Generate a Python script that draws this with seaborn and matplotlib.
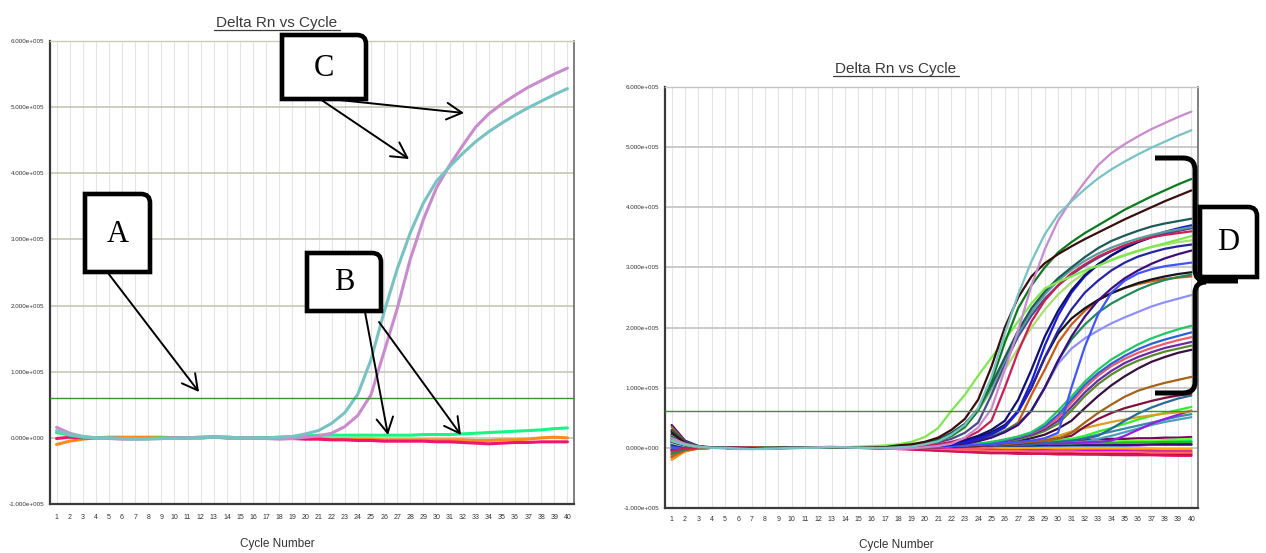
import numpy as np
import pandas as pd
import matplotlib
matplotlib.use("Agg")
import matplotlib.pyplot as plt
import seaborn as sns
from matplotlib.path import Path
from matplotlib.patches import PathPatch

sns.set_theme(style="white")
plt.rcParams["font.family"] = ["Liberation Sans", "DejaVu Sans"]

# ---------------- data (values in thousands of Delta Rn) ----------------
cycles = list(range(1, 41))
ytick_vals = [-100000, 0, 100000, 200000, 300000, 400000, 500000, 600000]
ytick_text = ["-1.000e+005", "0.000e+000", "1.000e+005", "2.000e+005",
              "3.000e+005", "4.000e+005", "5.000e+005", "6.000e+005"]
threshold = 61000

# left panel
teal_L = [11,5,2,0,0,-1,-2,-2,-1,-1, 0,0,1,1,0,0,0,1,2,6,
          11,22,38,66,118,190,255,310,355,388, 410,430,448,463,476,488,499,509,519,528]
violet_L = [16,7,2,0,-1,-2,-2,-1,-1,0, 0,1,2,1,0,0,-1,-2,-1,1,
            3,7,17,34,65,130,195,270,330,378, 412,442,470,490,505,518,530,540,550,559]
green_L = [8,4,1,0,0,-1,-1,-1,0,0, 0,0,1,1,0,0,0,1,2,3,
           4,4,4,4,4,4,4,4,5,5, 5,6,7,8,9,10,11,12,14,15]
orange_L = [-10,-5,-2,0,1,1,1,1,1,0, 0,1,1,0,0,0,0,0,0,0,
            -1,-2,-2,-2,-2,-3,-3,-3,-3,-3, -3,-3,-4,-4,-3,-3,-2,0,1,0]
red_L = [-1,1,0,0,0,-1,-1,-1,-1,0, 0,0,1,0,0,0,0,-1,-1,-2,
         -2,-3,-3,-4,-4,-5,-5,-5,-5,-6, -6,-7,-8,-9,-8,-7,-7,-6,-6,-6]

# right panel, amplifying wells
lime = [12,5,1,0,0,-1,-1,0,0,0, 0,1,1,1,2,3,4,6,10,18, 33,62,88,120,150,180,210,240,265,276, 285,295,303,312,320,327,334,340,346,352]
dkbrown = [25,8,2,0,0,-1,-1,-1,0,0, 0,0,1,1,0,1,1,4,6,10, 17,30,48,80,135,200,250,285,307,322, 335,347,358,369,380,390,400,410,419,428]
dkgreen = [18,6,2,0,0,-1,-1,0,0,0, 0,1,1,1,0,1,1,2,4,7, 12,20,35,62,110,175,232,270,300,325, 342,357,370,383,396,407,418,428,438,447]
dkteal = [30,10,3,1,0,0,-1,-1,-1,0, 0,0,1,1,0,0,1,2,4,8, 14,25,40,65,105,150,195,232,260,282, 300,317,332,344,353,361,368,373,377,381]
cadet = [20,7,2,0,0,-1,-1,0,0,0, 0,1,1,0,0,0,1,2,3,6, 11,20,36,62,100,145,190,226,255,278, 296,311,323,333,341,348,354,359,363,367]
crimson = [-5,-1,0,0,1,1,0,0,0,0, 0,1,1,0,0,0,0,1,2,4, 6,10,16,27,45,100,160,210,245,270, 290,305,318,328,337,344,350,354,357,360]
slate = [15,5,1,0,0,-1,-1,-1,0,0, 0,0,1,1,0,0,1,1,3,5, 9,15,25,42,88,140,185,220,248,270, 288,303,316,327,336,344,351,356,361,365]
navy = [10,4,1,0,0,-1,-1,0,0,0, 0,1,1,0,0,0,1,1,2,3, 5,8,13,20,30,45,80,130,185,228, 262,287,305,320,332,342,350,356,361,366]
blue = [22,7,2,0,0,0,-1,-1,0,0, 0,0,1,1,0,0,0,1,2,3, 4,6,10,16,24,36,62,110,170,220, 258,285,305,320,333,343,352,359,365,370]
palegreen = [8,3,1,0,0,0,-1,0,0,0, 0,1,1,0,0,0,1,2,3,6, 11,19,33,62,95,130,165,200,230,255, 275,291,303,313,321,328,334,338,342,345]
blue2 = [5,2,0,0,0,-1,-1,0,0,0, 0,0,1,1,0,0,0,1,1,3, 4,6,9,14,22,34,60,100,150,195, 230,258,278,295,308,318,325,331,335,338]
dkpurple = [12,4,1,0,0,-1,-1,-1,0,0, 0,0,1,1,0,0,0,1,2,2, 3,5,7,11,17,26,38,62,100,145, 185,218,245,265,282,295,306,315,322,328]
brightblue = [0,0,0,0,0,0,-1,0,0,0, 0,0,1,0,0,0,0,1,1,2, 2,3,4,5,6,8,10,12,16,25, 100,168,222,258,278,290,297,302,305,308]
black = [28,9,2,0,0,-1,-1,0,0,0, 0,0,1,1,0,0,0,1,2,3, 5,8,12,18,26,38,60,100,150,190, 215,232,246,257,266,274,280,285,289,292]
tealgreen = [-10,-3,0,0,1,1,0,0,0,0, 0,1,1,0,0,0,0,1,1,2, 3,5,8,12,18,28,40,62,100,145, 180,205,225,240,252,263,272,279,284,288]
orangebrown = [-15,-4,-1,0,1,1,1,1,0,0, 0,1,1,0,0,0,0,1,1,2, 3,5,8,12,18,28,42,88,130,175, 205,228,245,258,266,272,277,281,283,285]
lightblue = [6,2,0,0,0,-1,-1,0,0,0, 0,0,1,1,0,0,0,1,1,2, 3,5,8,12,18,27,40,62,100,140, 165,182,195,207,217,226,235,242,248,254]
green = [14,5,1,0,0,0,-1,-1,0,0, 0,0,1,1,0,0,0,1,1,2, 2,3,5,7,10,14,19,26,40,62, 85,110,130,147,160,172,182,190,197,203]
blue3 = [3,1,0,0,0,-1,-1,0,0,0, 0,0,1,0,0,0,0,1,1,2, 2,3,4,6,9,13,18,25,36,55, 80,105,124,140,153,164,173,180,186,192]
salmon = [-12,-3,-1,0,1,1,1,0,0,0, 0,1,1,0,0,0,0,0,1,1, 2,3,4,6,9,13,18,24,34,50, 75,100,120,136,148,158,166,173,179,184]
purple = [16,5,1,0,0,-1,-1,-1,0,0, 0,0,1,1,0,0,0,1,1,2, 2,3,4,6,8,11,16,22,31,45, 68,92,112,128,141,151,159,166,171,176]
olive = [-6,-2,0,0,1,1,0,0,0,0, 0,1,1,0,0,0,0,1,1,1, 2,3,4,5,7,10,14,20,28,40, 62,86,106,122,135,145,153,160,165,170]
dkpurple2 = [20,6,1,0,0,-1,-1,-1,0,0, 0,0,1,1,0,0,0,0,1,1, 2,2,3,4,6,8,11,16,22,32, 45,66,86,104,119,132,143,151,158,163]
brown = [35,10,2,0,0,-1,-1,0,0,0, 0,0,1,1,0,0,0,1,1,1, 2,2,3,4,5,6,8,10,12,15, 25,42,58,72,85,95,102,108,113,118]
maroon = [-3,0,0,0,0,0,-1,0,0,0, 0,0,1,0,0,0,0,0,1,1, 1,2,2,3,4,5,7,9,12,16, 20,35,48,58,66,72,78,83,87,90]
steelblue = [9,3,1,0,0,0,-1,0,0,0, 0,0,1,1,0,0,0,0,1,1, 1,2,2,3,3,4,5,6,8,10, 12,15,20,32,45,57,67,75,82,87]
gold = [-18,-5,-1,0,1,1,1,1,0,0, 0,1,1,0,0,0,0,0,1,1, 2,2,3,4,5,6,7,8,14,20, 27,33,38,43,47,51,54,57,59,61]
brightgreen = [4,1,0,0,0,0,-1,0,0,0, 0,0,1,0,0,0,0,1,1,2, 3,4,5,6,7,8,9,10,12,13, 15,20,27,33,40,47,53,58,63,68]
purple2 = [2,1,0,0,0,-1,-1,0,0,0, 0,0,1,0,0,0,0,0,1,1, 2,3,4,4,5,5,6,6,7,7, 8,9,10,12,20,30,40,48,55,62]
tealblue = [7,2,0,0,0,-1,-1,0,0,0, 0,0,1,1,0,0,0,1,1,2, 3,4,5,6,7,8,9,10,11,12, 12,17,22,27,32,37,42,47,52,56]
teal2 = [-4,-1,0,0,1,0,0,0,0,0, 0,1,1,0,0,0,0,0,1,1, 2,3,4,5,6,7,7,8,9,10, 10,10,15,20,26,32,38,43,47,51]

# right panel, non-amplifying wells
f_hotpink = [-8,-2,0,0,0,-1,-1,-1,0,0, 0,0,1,0,0,0,-1,-1,-2,-3, -4,-5,-6,-7,-8,-8,-9,-9,-10,-10, -10,-11,-11,-11,-12,-12,-12,-13,-13,-13]
f_red = [-5,-1,0,0,0,-1,-1,0,0,0, 0,0,1,0,0,0,-1,-1,-2,-2, -3,-4,-5,-5,-6,-6,-7,-7,-8,-8, -8,-9,-9,-9,-9,-10,-10,-10,-10,-10]
f_orange = [-20,-6,-1,0,1,1,1,1,1,0, 0,1,1,0,0,0,0,-1,-1,-1, -2,-2,-3,-3,-3,-3,-4,-4,-4,-4, -4,-4,-4,-5,-5,-5,-5,-5,-5,-5]
f_dkmagenta = [12,4,1,0,0,-1,-1,-1,-1,0, 0,0,1,0,0,0,0,1,1,2, 3,4,5,6,7,8,9,10,11,12, 13,13,14,15,15,16,16,17,17,18]
f_spring = [6,2,0,0,0,0,-1,0,0,0, 0,0,1,1,0,0,1,2,3,4, 5,6,6,7,7,8,8,8,9,9, 9,9,10,10,10,11,11,11,12,12]
f_cyan = [15,5,1,0,0,-1,-1,0,0,0, 0,1,1,0,0,0,0,1,2,3, 4,4,5,5,6,6,6,7,7,7, 7,8,8,8,8,9,9,9,9,10]
f_blue = [22,7,2,0,0,-1,-1,-1,0,0, 0,0,1,1,0,0,0,1,1,2, 2,3,3,3,4,4,4,4,5,5, 5,5,5,5,6,6,6,6,6,6]
f_purple = [-10,-3,-1,0,0,0,0,0,0,0, 0,0,1,0,0,0,0,0,1,1, 1,2,2,2,2,3,3,3,3,3, 4,4,4,4,4,4,5,5,5,5]
f_lime = [3,1,0,0,0,0,-1,0,0,0, 0,0,1,1,0,0,1,1,2,3, 4,5,5,6,6,7,7,8,8,9, 9,10,10,11,11,12,12,13,14,15]
f_teal = [-14,-4,-1,0,0,1,0,0,0,0, 0,0,1,0,0,0,0,0,1,1, 2,2,2,3,3,3,3,3,4,4, 4,4,4,4,4,5,5,5,5,5]
f_pink = [8,3,1,0,0,-1,-1,-1,0,0, 0,0,1,0,0,0,-1,-1,-1,-2, -2,-3,-3,-4,-4,-4,-5,-5,-5,-6, -6,-6,-6,-7,-7,-7,-7,-8,-8,-8]
f_crimson = [28,9,2,0,0,-1,-1,-1,0,0, 0,0,1,0,0,0,-1,-1,-2,-3, -4,-5,-6,-7,-7,-8,-8,-8,-9,-9, -9,-9,-9,-10,-10,-10,-10,-10,-11,-11]
f_brownorange = [-16,-5,-1,0,1,1,1,1,0,0, 0,1,1,0,0,0,0,0,-1,-1, -1,-1,-2,-2,-2,-2,-2,-3,-3,-3, -3,-3,-3,-3,-3,-3,-3,-3,-3,-3]
f_dkgreen = [10,3,1,0,0,0,-1,0,0,0, 0,0,1,0,0,0,0,1,1,2, 2,3,3,4,4,4,5,5,5,5, 5,6,6,6,6,6,7,7,7,7]
f_amber = [-12,-3,0,0,1,1,1,0,0,0, 0,0,1,0,0,0,0,0,0,0, 0,0,-1,-1,-1,-1,-1,-1,-1,-1, -1,-1,-1,-1,-1,-1,-1,-2,-2,-2]
f_magenta = [5,2,0,0,0,-1,-1,0,0,0, 0,0,1,0,0,0,0,-1,-1,-2, -2,-2,-3,-3,-3,-4,-4,-4,-4,-5, -5,-5,-5,-5,-5,-6,-6,-6,-6,-6]
f_aqua = [18,6,1,0,0,-1,-1,-1,0,0, 0,0,1,1,0,0,0,1,1,2, 3,3,4,4,5,5,5,6,6,6, 6,7,7,7,7,8,8,8,8,8]
f_lightred = [-2,0,0,0,0,0,-1,0,0,0, 0,0,1,0,0,0,-1,-1,-1,-2, -3,-3,-4,-4,-5,-5,-5,-6,-6,-6, -6,-7,-7,-7,-7,-7,-8,-8,-8,-8]
f_dkpurple = [38,12,3,0,0,-1,-1,-1,0,0, 0,0,1,1,0,0,0,1,1,2, 2,2,3,3,4,4,4,4,5,5, 5,5,5,5,5,5,6,6,6,6]
f_deeppink = [-3,-1,0,0,0,-1,-1,0,0,0, 0,0,1,0,0,-1,-1,-2,-3,-4, -5,-6,-7,-8,-9,-9,-10,-10,-10,-11, -11,-11,-11,-12,-12,-12,-12,-12,-13,-13]
f_medgreen = [2,1,0,0,0,0,-1,0,0,0, 0,0,1,1,0,0,0,1,1,2, 3,4,4,5,5,6,6,6,7,7, 7,8,8,8,9,9,9,10,10,10]

left_curves = [
    ("orange", orange_L, "#ff8a1c"), ("red", red_L, "#f0146e"),
    ("green", green_L, "#19f585"), ("violet", violet_L, "#c98ad0"),
    ("teal", teal_L, "#78c2c4"),
]
right_curves = [
    ("f_hotpink", f_hotpink, "#ff1a75"), ("f_red", f_red, "#e8202a"),
    ("f_orange", f_orange, "#ff8c1a"), ("f_dkmagenta", f_dkmagenta, "#800060"),
    ("f_spring", f_spring, "#00ff80"), ("f_cyan", f_cyan, "#00cccc"),
    ("f_blue", f_blue, "#3366ff"), ("f_purple", f_purple, "#9933ff"),
    ("f_lime", f_lime, "#66ff33"), ("f_teal", f_teal, "#009999"),
    ("f_pink", f_pink, "#ff66aa"), ("f_crimson", f_crimson, "#c00030"),
    ("f_brownorange", f_brownorange, "#cc6600"), ("f_dkgreen", f_dkgreen, "#008844"),
    ("f_amber", f_amber, "#ffaa00"), ("f_magenta", f_magenta, "#e000e0"),
    ("f_aqua", f_aqua, "#33ddee"), ("f_lightred", f_lightred, "#ff6666"),
    ("f_dkpurple", f_dkpurple, "#4b0082"), ("f_deeppink", f_deeppink, "#d4145a"),
    ("f_medgreen", f_medgreen, "#22bb22"),
    ("teal2", teal2, "#4aa0b8"), ("tealblue", tealblue, "#3a8aa8"),
    ("purple2", purple2, "#9020e8"), ("brightgreen", brightgreen, "#30ee30"),
    ("gold", gold, "#d8a020"), ("steelblue", steelblue, "#2a6a9a"),
    ("maroon", maroon, "#80103f"), ("brown", brown, "#a4621a"),
    ("dkpurple2", dkpurple2, "#3a0f40"), ("olive", olive, "#5a8a2a"),
    ("purple", purple, "#6a2aa8"), ("salmon", salmon, "#ef5a6a"),
    ("blue3", blue3, "#2f5fd8"), ("green", green, "#22c864"),
    ("lightblue", lightblue, "#8f8fff"), ("orangebrown", orangebrown, "#cc5a14"),
    ("tealgreen", tealgreen, "#1f8a5a"), ("black", black, "#141420"),
    ("brightblue", brightblue, "#4055ff"), ("dkpurple", dkpurple, "#3e0c80"),
    ("blue2", blue2, "#2424a8"), ("palegreen", palegreen, "#a8e070"),
    ("blue", blue, "#1a1ad8"), ("navy", navy, "#101070"),
    ("slate", slate, "#4a4a90"), ("crimson", crimson, "#cc1f55"),
    ("cadet", cadet, "#5b9c9c"), ("dkteal", dkteal, "#1f5a5a"),
    ("lime", lime, "#7ee84c"), ("dkgreen", dkgreen, "#0b7a1f"),
    ("dkbrown", dkbrown, "#3b0d0d"),
    ("violet", violet_L, "#c98ad0"), ("teal", teal_L, "#78c2c4"),
]


def long_df(curves):
    rows = []
    for name, vals, _ in curves:
        assert len(vals) == 40, name
        for c, v in zip(cycles, vals):
            rows.append((name, c, v * 1000))
    return pd.DataFrame(rows, columns=["curve", "cycle", "delta_rn"])


W, H = 1266, 553
fig = plt.figure(figsize=(W / 100, H / 100), dpi=100)
axL = fig.add_axes([50 / W, 1 - 504 / H, 524 / W, 463 / H])
axR = fig.add_axes([665 / W, 1 - 508 / H, 533 / W, 421 / H])


def style_axes(ax, hgrid, xpad, ypad):
    ax.set_xlim(0.5, 40.5)
    ax.set_ylim(-100000, 600000)
    ax.set_xticks(cycles)
    ax.set_xticklabels([str(c) for c in cycles])
    ax.set_yticks(ytick_vals)
    ax.set_yticklabels(ytick_text)
    ax.tick_params(axis="x", length=0, labelsize=5, pad=xpad, colors="#333333")
    ax.tick_params(axis="y", length=0, labelsize=4.5, pad=ypad, colors="#333333")
    ax.set_axisbelow(True)
    ax.xaxis.grid(True, color="#e4e4e4", lw=0.8)
    ax.yaxis.grid(True, color=hgrid, lw=1.3)
    ax.set_xlabel("")
    ax.set_ylabel("")
    for s in ("left", "bottom"):
        ax.spines[s].set_color("#3a3a3a")
        ax.spines[s].set_linewidth(1.6)
    ax.spines["right"].set_color("#6a6a6a")
    ax.spines["right"].set_linewidth(1.2)
    ax.spines["top"].set_color(hgrid)
    ax.spines["top"].set_linewidth(1.0)
    ax.axhline(threshold, color="#3f8f3a", lw=1.0, zorder=5)


dfL = long_df(left_curves)
sns.lineplot(data=dfL, x="cycle", y="delta_rn", hue="curve",
             hue_order=[n for n, _, _ in left_curves],
             palette={n: c for n, _, c in left_curves},
             estimator=None, legend=False, lw=2.2, ax=axL)
style_axes(axL, "#cbcbbb", 7, 4)

dfR = long_df(right_curves)
sns.lineplot(data=dfR, x="cycle", y="delta_rn", hue="curve",
             hue_order=[n for n, _, _ in right_curves],
             palette={n: c for n, _, c in right_curves},
             estimator=None, legend=False, lw=1.6, ax=axR)
style_axes(axR, "#c6c6c6", 6, 4)

# ---------------- overlay (pixel coordinates, y downward) ----------------
ov = fig.add_axes([0, 0, 1, 1], zorder=10)
ov.set_xlim(0, W)
ov.set_ylim(H, 0)
ov.axis("off")
ov.patch.set_alpha(0)

for cx, base, ul in [(277, 26.5, 29.5), (896, 72.5, 75.5)]:
    t = ov.text(cx, base, "Delta Rn vs Cycle", ha="center", va="baseline",
                fontsize=11, color="#3a3a3a")
    ov.plot([cx - 63, cx + 63], [ul, ul], color="#3a3a3a", lw=0.9)
ov.text(277, 544, "Cycle Number", ha="center", va="center", fontsize=8.5, color="#333333")
ov.text(896, 545, "Cycle Number", ha="center", va="center", fontsize=8.5, color="#333333")


def note_box(x0, y0, x1, y1, letter, r=9):
    verts = [(x0, y1), (x0, y0), (x1 - r, y0), (x1, y0), (x1, y0 + r), (x1, y1), (x0, y1)]
    codes = [Path.MOVETO, Path.LINETO, Path.LINETO, Path.CURVE3, Path.CURVE3,
             Path.LINETO, Path.CLOSEPOLY]
    ov.add_patch(PathPatch(Path(verts, codes), facecolor="white", edgecolor="black",
                           lw=3.3, joinstyle="miter"))
    ov.text((x0 + x1) / 2, (y0 + y1) / 2 + 1, letter, ha="center", va="center",
            fontsize=22, family=["Liberation Serif", "DejaVu Serif"], color="black")


def arrow(p0, p1):
    ov.annotate("", xy=p1, xytext=p0,
                arrowprops=dict(arrowstyle="->,head_length=0.55,head_width=0.3",
                                lw=1.4, color="black", mutation_scale=20,
                                shrinkA=0, shrinkB=0))


note_box(85, 194, 150, 272, "A")
arrow((108, 273), (199, 392))
note_box(307, 253, 381, 311, "B")
arrow((365, 312), (388, 435))
arrow((379, 322), (461, 435))
note_box(282, 35, 366, 99, "C")
arrow((320, 98), (464, 113))
arrow((320, 99), (409, 159))
note_box(1200, 207, 1257, 277, "D")

bverts = [(1155, 158), (1183, 158), (1195, 158), (1195, 170), (1195, 270),
          (1195, 281), (1206, 281), (1238, 281),
          (1206, 282), (1195, 282), (1195, 293), (1195, 382),
          (1195, 393), (1183, 393), (1155, 393)]
bcodes = [Path.MOVETO, Path.LINETO, Path.CURVE3, Path.CURVE3, Path.LINETO,
          Path.CURVE3, Path.CURVE3, Path.LINETO,
          Path.MOVETO, Path.CURVE3, Path.CURVE3, Path.LINETO,
          Path.CURVE3, Path.CURVE3, Path.LINETO]
ov.add_patch(PathPatch(Path(bverts, bcodes), fill=False, edgecolor="black", lw=3.6,
                       capstyle="butt", joinstyle="round"))

fig.savefig("out.png", dpi=100, facecolor="white")
